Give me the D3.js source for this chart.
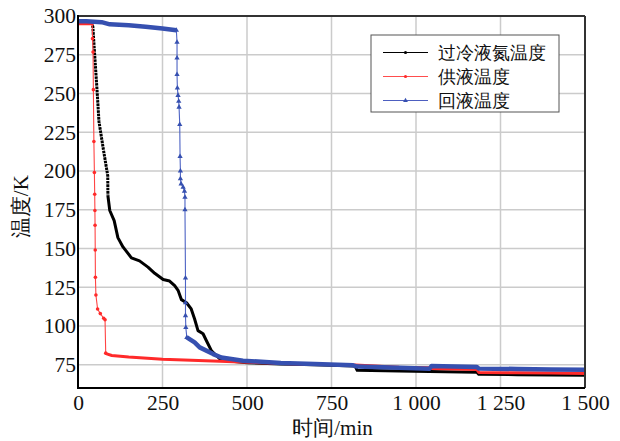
<!DOCTYPE html>
<html>
<head>
<meta charset="utf-8">
<script src="https://cdn.jsdelivr.net/npm/d3@7"></script>
<style>
  body { margin: 0; background: #fff; }
  svg text { font-family: "Liberation Serif", "DejaVu Serif", serif; fill: #111; }
</style>
</head>
<body>
<div id="chart"></div>
<script>
// data (time in min, temperature in K)
const blackTime = [0, 40, 44, 49, 57, 62, 75, 88, 88.5, 94, 107, 118, 133, 158, 182, 207, 227, 252, 271, 286, 296, 306, 321, 335, 345, 355, 370, 380, 395, 409, 419, 440, 500, 600, 700, 820, 826, 950, 1040, 1180, 1186, 1300, 1400, 1500]
const blackTemp = [296, 296, 293, 276, 250, 232, 214, 197, 184, 174.5, 168, 157, 151, 144, 142, 138, 134, 130, 129, 126, 123, 117, 115, 111, 104.5, 97, 95, 90.5, 84, 81, 79, 77.5, 76.3, 75.5, 75, 74.2, 71.4, 70.9, 70.6, 70.2, 68.8, 68.6, 68.4, 68.2]

const redTime = [0, 42, 43, 44.5, 45.5, 47, 48.5, 49.4, 50, 50.5, 51, 51.5, 53, 58, 66, 76, 80, 82, 85, 100, 150, 250, 420, 500, 650, 820, 950, 1040, 1046, 1180, 1186, 1300, 1400, 1500]
const redTemp = [295, 295, 285.4, 276.7, 252.5, 219, 199, 185, 174.5, 165, 149, 131.4, 120, 111, 108, 105, 104, 82.5, 82, 81, 80, 78.5, 77.3, 76.6, 75.5, 74.8, 73.4, 73, 72.5, 72, 70, 69.8, 69.6, 69.4]

const blueTime = [0, 25, 70, 94, 150, 200, 250, 291, 293, 293, 293, 294, 296, 298, 299, 301, 302, 303, 303, 305, 311, 315, 316.5, 316.5, 318, 318, 318, 319, 322, 345, 360, 400, 424, 488, 600, 700, 814, 826, 950, 1040, 1046, 1180, 1186, 1300, 1400, 1500]
const blueTemp = [296.6, 296.6, 296, 294.6, 294, 293, 292, 290.8, 283, 272.9, 262.3, 253.5, 248.8, 245, 241.2, 230, 209.4, 200, 195, 191.7, 189.5, 187, 183, 175, 131, 115, 106.7, 99, 92.6, 89.4, 86.2, 81.9, 79.7, 77.6, 76.2, 75.5, 74.6, 73.8, 73, 72.4, 74.2, 73.6, 72.5, 72.3, 72, 71.8]

const seriesNames = ["过冷液氮温度", "供液温度", "回液温度"]
const xTicks = [0, 250, 500, 750, 1000, 1250, 1500]
const yTicks = [75, 100, 125, 150, 175, 200, 225, 250, 275, 300]

const margin = { top: 16, right: 35, bottom: 53, left: 78 },
    width = 620 - margin.left - margin.right,
    height = 441 - margin.top - margin.bottom;

const x = d3.scaleLinear().domain([0, 1500]).range([0, width])
const y = d3.scaleLinear().domain([60, 300]).range([height, 0])

const svg = d3.select("#chart")
    .append("svg")
    .attr("width", 620)
    .attr("height", 441)
    .append("g")
    .attr("transform", "translate(" + margin.left + "," + margin.top + ")")

// grid
svg.append("g").selectAll("line")
    .data(xTicks.slice(1, -1))
    .enter().append("line")
    .attr("x1", d => x(d)).attr("x2", d => x(d))
    .attr("y1", 0).attr("y2", height)
    .attr("stroke", "#cbcbcb").attr("stroke-width", 1.5)
svg.append("g").selectAll("line")
    .data(yTicks.slice(0, -1))
    .enter().append("line")
    .attr("y1", d => y(d)).attr("y2", d => y(d))
    .attr("x1", 0).attr("x2", width)
    .attr("stroke", "#cbcbcb").attr("stroke-width", 1.5)

// axes labels
const fmt = d => d >= 1000 ? d3.format(",")(d).replace(",", " ") : d
const xAxis = svg.append("g")
    .attr("transform", "translate(0," + height + ")")
    .call(d3.axisBottom(x).tickValues(xTicks).tickSize(0).tickPadding(7).tickFormat(fmt))
const yAxis = svg.append("g")
    .call(d3.axisLeft(y).tickValues(yTicks).tickSize(0).tickPadding(2))
xAxis.select(".domain").remove()
yAxis.select(".domain").remove()
xAxis.attr("font-family", null)
yAxis.attr("font-family", null)
svg.selectAll(".tick text")
    .attr("font-size", 21.5)
    .attr("fill", "#000")

svg.append("text")
    .attr("x", width / 2 + 1)
    .attr("y", height + 47)
    .attr("text-anchor", "middle")
    .attr("font-size", 21)
    .attr("fill", "#000")
    .text("时间/min")
svg.append("text")
    .attr("transform", "translate(" + (-50) + "," + (y(177)) + ") rotate(-90)")
    .attr("text-anchor", "middle")
    .attr("font-size", 21)
    .attr("fill", "#000")
    .text("温度/K")

// series
const series = [
    { name: seriesNames[0], t: blackTime, v: blackTemp, color: "#000", thin: "#444", mark: "dash", lo: 40, hi: 88.5, w: 3 },
    { name: seriesNames[1], t: redTime, v: redTemp, color: "#ff2a2a", thin: "#ff4444", mark: "circle", lo: 42, hi: 82, w: 3 },
    { name: seriesNames[2], t: blueTime, v: blueTemp, color: "#3650b0", thin: "#4d63c4", mark: "triangle", lo: 291, hi: 322, w: 4.5 }
]

const plot = svg.append("g")
series.forEach(s => {
    const pts = s.t.map((t, i) => ({ t: t, v: s.v[i] }))
    const steep = pts.filter(d => d.t >= s.lo && d.t <= s.hi)
    // thin part (steep drop)
    plot.append("path")
        .datum(steep)
        .attr("fill", "none")
        .attr("stroke", s.mark === "dash" ? s.color : s.thin)
        .attr("stroke-width", s.mark === "dash" ? 3 : 1.1)
        .attr("stroke-dasharray", s.mark === "dash" ? "2.6,0.8" : null)
        .attr("d", d3.line().x(d => x(d.t)).y(d => y(d.v)))
    // dense part
    plot.append("path")
        .datum(pts)
        .attr("fill", "none")
        .attr("stroke", s.color)
        .attr("stroke-width", s.w)
        .attr("stroke-linejoin", "round")
        .attr("d", d3.line()
            .defined(d => d.t <= s.lo || d.t >= s.hi)
            .x(d => x(d.t)).y(d => y(d.v)))
    if (s.mark === "circle") {
        plot.selectAll(null)
            .data(steep)
            .enter().append("circle")
            .attr("cx", d => x(d.t)).attr("cy", d => y(d.v))
            .attr("r", 1.8).attr("fill", s.color)
    }
    if (s.mark === "triangle") {
        plot.selectAll(null)
            .data(steep)
            .enter().append("path")
            .attr("transform", d => "translate(" + x(d.t) + "," + y(d.v) + ")")
            .attr("d", d3.symbol(d3.symbolTriangle, 12))
            .attr("fill", s.color)
    }
})

// frame
svg.append("line").attr("x1", 0).attr("x2", width).attr("y1", 0).attr("y2", 0)
    .attr("stroke", "#333").attr("stroke-width", 2)
svg.append("line").attr("x1", width).attr("x2", width).attr("y1", 0).attr("y2", height)
    .attr("stroke", "#333").attr("stroke-width", 2)
svg.append("line").attr("x1", 0).attr("x2", 0).attr("y1", -1).attr("y2", height + 1)
    .attr("stroke", "#000").attr("stroke-width", 2)
svg.append("line").attr("x1", 0).attr("x2", width).attr("y1", height).attr("y2", height)
    .attr("stroke", "#000").attr("stroke-width", 2)

// legend
const legend = svg.append("g").attr("transform", "translate(" + (371 - margin.left) + "," + (35 - margin.top) + ")")
legend.append("rect")
    .attr("width", 188).attr("height", 77)
    .attr("fill", "#fff").attr("stroke", "#555").attr("stroke-width", 1)
const legendColors = ["#000", "#ff4d4d", "#4d5fc0"]
seriesNames.forEach((name, i) => {
    const ly = 17.5 + i * 24
    legend.append("line")
        .attr("x1", 12).attr("x2", 57).attr("y1", ly).attr("y2", ly)
        .attr("stroke", legendColors[i]).attr("stroke-width", 1)
    if (i < 2) {
        legend.append("circle").attr("cx", 34.5).attr("cy", ly).attr("r", 1.6).attr("fill", series[i].color)
    } else {
        legend.append("path")
            .attr("transform", "translate(34.5," + ly + ")")
            .attr("d", d3.symbol(d3.symbolTriangle, 10))
            .attr("fill", series[i].color)
    }
    legend.append("text")
        .attr("x", 67).attr("y", ly)
        .attr("dy", "0.36em")
        .attr("font-size", 18)
        .attr("fill", "#000")
        .text(name)
})
</script>
</body>
</html>
